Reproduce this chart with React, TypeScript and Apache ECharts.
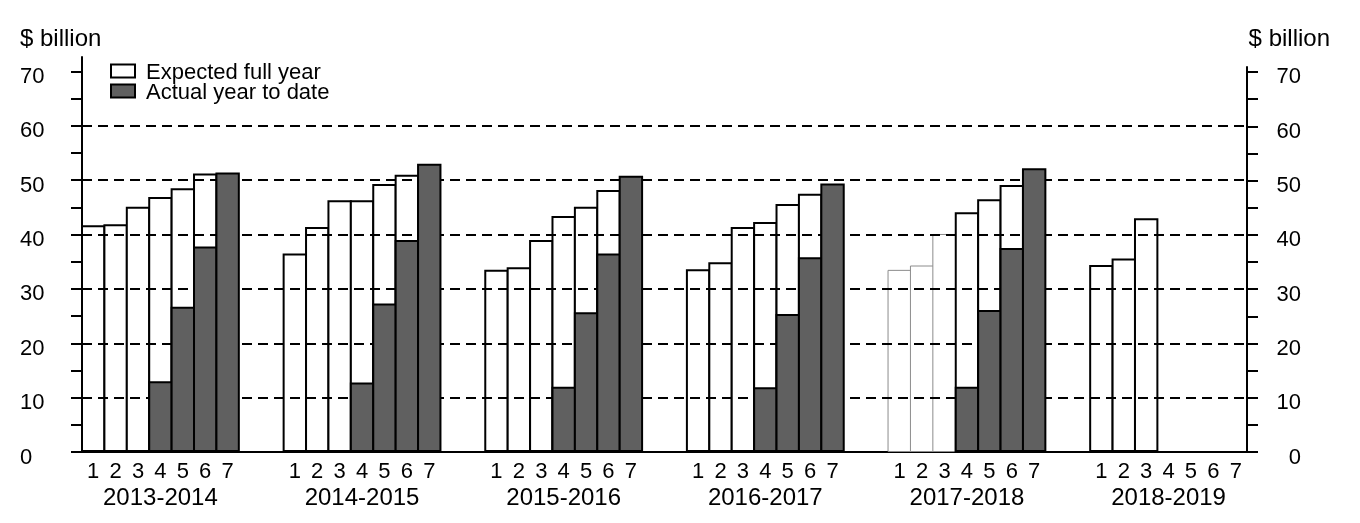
import { useEffect, useRef } from 'react';
import * as echarts from 'echarts';

const FONT = '"Liberation Sans", Arial, sans-serif';

// financial years and the release number inside each year
const years = ['2013-2014', '2014-2015', '2015-2016', '2016-2017', '2017-2018', '2018-2019'];
const releases = ['1', '2', '3', '4', '5', '6', '7'];

// expected full year, releases 1-6 ($ billion)
const expected1314 = [41.7, 41.9, 45.1, 46.9, 48.5, 51.2];
const expected1415 = [36.5, 41.4, 46.3, 46.3, 49.3, 51.0];
const expected1516 = [33.5, 34.0, 39.0, 43.4, 45.1, 48.2];
const expected1617 = [33.6, 34.9, 41.4, 42.3, 45.6, 47.5];
const expected1718 = [33.5, 34.3, 40.1, 44.1, 46.5, 49.1];
const expected1819 = [34.4, 35.6, 43.0];

// actual year to date, releases 4-7 ($ billion)
const actual1314 = [13.0, 26.7, 37.8, 51.4];
const actual1415 = [12.8, 27.3, 39.0, 53.0];
const actual1516 = [12.0, 25.7, 36.5, 50.8];
const actual1617 = [11.9, 25.4, 35.8, 49.4];
const actual1718 = [12.0, 26.1, 37.5, 52.2];
const actual1819: number[] = [];

const expected = [expected1314, expected1415, expected1516, expected1617, expected1718, expected1819];
const actual = [actual1314, actual1415, actual1516, actual1617, actual1718, actual1819];

const yTicks = [0, 5, 10, 15, 20, 25, 30, 35, 40, 45, 50, 55, 60, 65, 70];
const yLabels = [0, 10, 20, 30, 40, 50, 60, 70];
const gridLines = [10, 20, 30, 40, 50, 60];

const GAP = 2; // empty slots between years
const FIRST_ACTUAL = 3; // release 4 is the first with an actual figure
const FAINT_YEAR = 4; // 2017-2018 early releases drawn with a thin grey outline
const BAR_PX = 24.4; // slot width + border, so neighbours share one outline

type Slot = { label: string; g: number; i: number };

function App() {
  const chartRef = useRef<HTMLDivElement>(null);

  useEffect(() => {
    if (!chartRef.current) return;

    const slots: Slot[] = [];
    years.forEach((y, g) => {
      releases.forEach((r, i) => slots.push({ label: i === 3 ? `{n|${r}}\n{y|${y}}` : `{n|${r}}`, g, i }));
      if (g < years.length - 1) for (let k = 0; k < GAP; k++) slots.push({ label: '', g: -1, i: -1 });
    });

    const whiteData = slots.map((s) => {
      if (s.g < 0) return '-';
      const v = expected[s.g][s.i];
      if (v === undefined) return '-';
      if (s.g === FAINT_YEAR && s.i < FIRST_ACTUAL) {
        return { value: v, itemStyle: { borderColor: '#8c8c8c', borderWidth: 1 } };
      }
      return v;
    });
    const darkData = slots.map((s) => {
      if (s.g < 0 || s.i < FIRST_ACTUAL) return '-';
      const v = actual[s.g][s.i - FIRST_ACTUAL];
      return v === undefined ? '-' : v;
    });

    const yAxisBase = {
      type: 'value' as const,
      min: 0,
      axisLine: { show: true, lineStyle: { color: '#000', width: 2 } },
      axisTick: { show: true, inside: false, length: 11, customValues: yTicks, lineStyle: { color: '#000', width: 2 } },
      splitLine: { show: false },
    };
    const labelStyle = {
      customValues: yLabels,
      formatter: (v: number) => `{v|${v}}`,
      rich: { v: { fontSize: 22, color: '#000', fontFamily: FONT, padding: [8, 0, 0, 0] } },
    };

    const option: echarts.EChartsOption = {
      animation: false,
      grid: [
        { left: 82, right: 113, top: 57, bottom: 71, containLabel: false },
        { left: 82, right: 113, top: 67, bottom: 71, containLabel: false },
      ],
      legend: {
        orient: 'vertical',
        left: 105,
        top: 55,
        icon: 'rect',
        itemWidth: 24,
        itemHeight: 13,
        itemGap: -2,
        selectedMode: false,
        textStyle: { fontSize: 22, color: '#000', fontFamily: FONT, padding: [0, 0, 0, 6] },
        data: ['Expected full year', 'Actual year to date'],
      },
      xAxis: [
        {
          gridIndex: 0,
          type: 'category',
          data: slots.map((s) => s.label),
          axisLine: { show: true, lineStyle: { color: '#000', width: 2 } },
          axisTick: { show: false },
          axisLabel: {
            interval: 0,
            margin: 5,
            rich: {
              n: { fontSize: 22, lineHeight: 26, color: '#000', fontFamily: FONT },
              y: { fontSize: 24, lineHeight: 26, color: '#000', fontFamily: FONT },
            },
          },
        },
        { gridIndex: 1, type: 'category', data: slots.map((s) => s.label), show: false },
      ],
      yAxis: [
        {
          ...yAxisBase,
          gridIndex: 0,
          position: 'left',
          max: 72.65,
          axisLabel: { ...labelStyle, align: 'left', margin: 62 },
        },
        {
          ...yAxisBase,
          gridIndex: 1,
          position: 'right',
          max: 70.92,
          axisLabel: { ...labelStyle, align: 'right', margin: 54 },
        },
      ],
      graphic: [
        { type: 'text', left: 20, top: 25, style: { text: '$ billion', font: `24px ${FONT}`, fill: '#000' } },
        { type: 'text', right: 30, top: 25, style: { text: '$ billion', font: `24px ${FONT}`, fill: '#000' } },
      ],
      series: [
        {
          name: 'Expected full year',
          type: 'bar',
          xAxisIndex: 0,
          yAxisIndex: 0,
          data: whiteData as any,
          barWidth: BAR_PX,
          barGap: '-100%',
          itemStyle: { color: '#fff', borderColor: '#000', borderWidth: 2 },
          markLine: {
            silent: true,
            symbol: 'none',
            z: 5,
            label: { show: false },
            lineStyle: { color: '#000', type: [10, 6], width: 2 },
            data: gridLines.map((v) => ({ yAxis: v })),
          },
        },
        {
          name: 'Actual year to date',
          type: 'bar',
          xAxisIndex: 0,
          yAxisIndex: 0,
          z: 10,
          data: darkData as any,
          barWidth: BAR_PX,
          barGap: '-100%',
          itemStyle: { color: '#606060', borderColor: '#000', borderWidth: 2 },
        },
      ],
    };

    const chart = echarts.init(chartRef.current, undefined, { renderer: 'svg' });
    chart.setOption(option);

    return () => {
      chart.dispose();
    };
  }, []);

  return <div ref={chartRef} style={{ position: 'fixed', left: 0, top: 0, width: '1360px', height: '523px' }} />;
}

export default App;
